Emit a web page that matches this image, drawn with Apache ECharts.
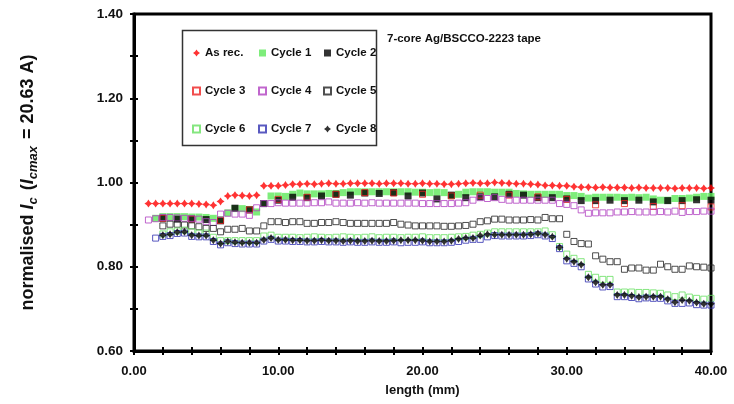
<!DOCTYPE html>
<html>
<head>
<meta charset="utf-8">
<script src="https://cdn.jsdelivr.net/npm/echarts@6/dist/echarts.min.js"></script>
<style>
  html, body { margin: 0; padding: 0; background: #fff; }
  #chart { width: 734px; height: 404px; }
</style>
</head>
<body>
<div id="chart"></div>
<script>
// positions along the tape (mm)
var xHalf = [1,1.5,2,2.5,3,3.5,4,4.5,5,5.5,
  6,6.5,7,7.5,8,8.5,9,9.5,10,10.5,
  11,11.5,12,12.5,13,13.5,14,14.5,15,15.5,
  16,16.5,17,17.5,18,18.5,19,19.5,20,20.5,
  21,21.5,22,22.5,23,23.5,24,24.5,25,25.5,
  26,26.5,27,27.5,28,28.5,29,29.5,30,30.5,
  31,31.5,32,32.5,33,33.5,34,34.5,35,35.5,
  36,36.5,37,37.5,38,38.5,39,39.5,40];
var xInt = [2,3,4,5,6,7,8,9,10,11,12,13,14,15,16,17,18,19,20,21,
  22,23,24,25,26,27,28,29,30,31,32,33,34,35,36,37,38,39,40];
var xEven = [2,4,6,8,10,12,14,16,18,20,22,24,26,28,30,32,34,36,38,40];

var asRec = [0.950,0.950,0.950,0.950,0.950,0.950,0.950,0.949,0.948,0.946,
  0.955,0.968,0.970,0.969,0.968,0.970,0.992,0.992,0.992,0.994,
  0.996,0.996,0.997,0.996,0.997,0.998,0.997,0.997,0.998,0.998,
  0.998,0.998,0.997,0.998,0.998,0.998,0.997,0.997,0.998,0.997,
  0.997,0.996,0.996,0.997,0.998,0.999,0.998,0.998,1.000,0.999,
  0.998,0.997,0.997,0.996,0.995,0.993,0.993,0.992,0.992,0.990,
  0.989,0.989,0.988,0.989,0.988,0.988,0.988,0.987,0.988,0.987,
  0.987,0.987,0.987,0.986,0.987,0.987,0.987,0.986,0.987];
var cycle1 = [null,0.915,0.919,0.919,0.919,0.919,0.918,0.918,0.917,0.915,
  0.912,0.928,0.938,0.938,0.936,0.930,0.950,0.968,0.968,0.967,
  0.972,0.975,0.973,0.973,0.973,0.974,0.974,0.976,0.978,0.978,
  0.978,0.978,0.978,0.978,0.978,0.978,0.978,0.977,0.977,0.976,
  0.977,0.976,0.969,0.972,0.977,0.978,0.978,0.978,0.977,0.977,
  0.977,0.974,0.973,0.972,0.972,0.972,0.972,0.972,0.969,0.969,
  0.967,0.963,0.965,0.965,0.965,0.965,0.964,0.965,0.964,0.965,
  0.961,0.958,0.958,0.962,0.962,0.963,0.965,0.967,0.967];
var cycle2 = [0.915,0.913,0.913,0.912,0.909,0.939,0.935,0.950,0.958,0.965,
  0.964,0.968,0.972,0.970,0.975,0.974,0.976,0.968,0.975,0.961,
  0.970,0.964,0.966,0.966,0.972,0.970,0.964,0.964,0.961,0.957,
  0.957,0.958,0.957,0.958,0.954,0.957,0.957,0.959,0.958];
var cycle3 = [0.915,0.913,0.910,0.935,0.960,0.965,0.972,0.976,0.975,0.972,
  0.968,0.970,0.970,0.966,0.960,0.947,0.950,0.943,0.945,0.942];
var cycle4 = [0.911,0.914,0.917,0.917,0.916,0.915,0.914,0.913,0.907,0.905,
  0.925,0.927,0.925,0.925,0.922,0.940,0.950,0.950,0.952,0.951,
  0.951,0.951,0.951,0.952,0.952,0.954,0.951,0.951,0.951,0.952,
  0.951,0.952,0.951,0.951,0.951,0.951,0.951,0.951,0.950,0.950,
  0.950,0.950,0.950,0.951,0.952,0.958,0.964,0.962,0.964,0.960,
  0.958,0.958,0.958,0.958,0.958,0.958,0.958,0.950,0.948,0.945,
  0.935,0.927,0.928,0.928,0.928,0.930,0.930,0.931,0.930,0.930,
  0.930,0.931,0.930,0.932,0.929,0.931,0.931,0.932,0.932];
var cycle5 = [null,null,0.897,0.901,0.901,0.899,0.897,0.895,0.891,0.891,
  0.883,0.889,0.889,0.891,0.885,0.885,0.897,0.907,0.907,0.905,
  0.907,0.907,0.903,0.903,0.905,0.905,0.907,0.905,0.903,0.903,
  0.903,0.903,0.903,0.903,0.905,0.901,0.899,0.897,0.897,0.897,
  0.897,0.896,0.896,0.897,0.898,0.901,0.907,0.909,0.913,0.913,
  0.911,0.911,0.911,0.912,0.911,0.917,0.914,0.914,0.877,0.860,
  0.855,0.854,0.826,0.818,0.812,0.812,0.794,0.797,0.797,0.792,
  0.792,0.806,0.800,0.794,0.794,0.802,0.800,0.799,0.797];
var cycle6 = [null,null,0.878,0.883,0.885,0.887,0.883,0.880,0.880,0.870,
  0.862,0.862,0.862,0.862,0.862,0.862,0.873,0.875,0.870,0.870,
  0.870,0.869,0.870,0.871,0.870,0.869,0.870,0.871,0.870,0.869,
  0.870,0.871,0.869,0.870,0.870,0.869,0.870,0.870,0.871,0.869,
  0.869,0.869,0.870,0.871,0.872,0.875,0.877,0.880,0.883,0.883,
  0.883,0.883,0.883,0.883,0.883,0.885,0.876,0.848,0.830,0.820,
  0.812,0.782,0.775,0.770,0.770,0.740,0.740,0.740,0.739,0.739,
  0.738,0.737,0.733,0.729,0.733,0.728,0.725,0.723,0.725];
var cycle7 = [null,0.868,0.872,0.874,0.879,0.880,0.872,0.871,0.871,0.860,
  0.852,0.857,0.855,0.854,0.854,0.854,0.861,0.865,0.861,0.861,
  0.860,0.860,0.859,0.859,0.860,0.859,0.859,0.858,0.859,0.858,
  0.858,0.859,0.858,0.858,0.859,0.857,0.858,0.858,0.859,0.857,
  0.857,0.857,0.858,0.860,0.863,0.865,0.865,0.871,0.874,0.873,
  0.873,0.873,0.873,0.874,0.876,0.873,0.867,0.843,0.814,0.808,
  0.800,0.771,0.759,0.752,0.753,0.729,0.729,0.727,0.724,0.726,
  0.725,0.725,0.719,0.713,0.713,0.714,0.710,0.709,0.709];
var cycle8 = [null,null,0.875,0.877,0.882,0.883,0.875,0.874,0.874,0.863,
  0.855,0.860,0.858,0.857,0.857,0.857,0.864,0.868,0.864,0.864,
  0.863,0.863,0.862,0.862,0.863,0.862,0.862,0.861,0.862,0.861,
  0.861,0.862,0.861,0.861,0.862,0.863,0.863,0.863,0.862,0.860,
  0.860,0.860,0.862,0.866,0.868,0.868,0.874,0.877,0.876,0.876,
  0.876,0.876,0.876,0.877,0.879,0.876,0.871,0.846,0.819,0.812,
  0.805,0.775,0.763,0.757,0.757,0.733,0.733,0.731,0.728,0.729,
  0.729,0.729,0.723,0.716,0.721,0.719,0.715,0.712,0.712];

var FONT = "'Liberation Sans', Arial, sans-serif";
// plump four-pointed marker, like the spreadsheet diamond
var STAR = 'path://M5,0 L7,3 L10,5 L7,7 L5,10 L3,7 L0,5 L3,3 Z';

function pairs(xs, ys) {
  var out = [];
  for (var i = 0; i < xs.length; i++) {
    if (ys[i] != null) out.push([xs[i], ys[i]]);
  }
  return out;
}

function filled(name, xs, ys, symbol, size, color) {
  return {
    name: name, type: 'scatter', data: pairs(xs, ys),
    symbol: symbol, symbolSize: size,
    itemStyle: { color: color },
    emphasis: { disabled: true }
  };
}
function hollow(name, xs, ys, color) {
  return {
    name: name, type: 'scatter', data: pairs(xs, ys),
    symbol: 'rect', symbolSize: 6,
    itemStyle: { color: 'rgba(0,0,0,0)', borderColor: color, borderWidth: 1 },
    emphasis: { disabled: true }
  };
}

var legendText = { fontFamily: FONT, fontWeight: 'bold', fontSize: 11.5, color: '#111', lineHeight: 14 };
function legendCol(left, names) {
  return {
    orient: 'vertical', left: left, top: 41,
    itemWidth: 7, itemHeight: 7, itemGap: 24,
    textStyle: legendText, data: names, selectedMode: false
  };
}

var chart = echarts.init(document.getElementById('chart'));
chart.setOption({
  animation: false,
  backgroundColor: '#fff',
  title: {
    text: '7-core Ag/BSCCO-2223 tape', left: 382, top: 28,
    textStyle: { fontFamily: FONT, fontWeight: 'bold', fontSize: 11.5, color: '#111' }
  },
  graphic: [{
    type: 'rect', left: 180, top: 28,
    shape: { width: 194, height: 115 },
    style: { fill: 'none', stroke: '#333', lineWidth: 1.5 }
  }],
  legend: [
    legendCol(187, ['As rec.', 'Cycle 3', 'Cycle 6']),
    legendCol(253, ['Cycle 1', 'Cycle 4', 'Cycle 7']),
    legendCol(318, ['Cycle 2', 'Cycle 5', 'Cycle 8'])
  ],
  grid: { left: 134, right: 23, top: 14, bottom: 53, show: true, borderColor: '#000', borderWidth: 3 },
  xAxis: [{
    type: 'value', min: 0, max: 40, interval: 2,
    name: 'length (mm)', nameLocation: 'middle', nameGap: 33,
    nameTextStyle: { fontFamily: FONT, fontWeight: 'bold', fontSize: 13, color: '#111' },
    axisLine: { lineStyle: { color: '#000', width: 3 } },
    axisTick: { length: 4, lineStyle: { color: '#000', width: 2 } },
    axisLabel: {
      interval: 0, margin: 14, fontFamily: FONT, fontWeight: 'bold', fontSize: 13, color: '#111',
      formatter: function (v) { return v % 10 === 0 ? v.toFixed(2) : ''; }
    },
    splitLine: { show: false }
  }, {
    type: 'value', min: 0, max: 40, interval: 2, position: 'bottom',
    axisLine: { show: false },
    axisTick: { inside: true, length: 4, lineStyle: { color: '#000', width: 2 } },
    axisLabel: { show: false }, splitLine: { show: false }
  }],
  yAxis: [{
    type: 'value', min: 0.6, max: 1.4, interval: 0.1,
    name: '{n|normalised }{i|I}{s|c}{n| (}{i|I}{s|cmax}{n| = 20.63 A)}',
    nameLocation: 'middle', nameRotate: 90, nameGap: 93,
    nameTextStyle: {
      fontFamily: FONT, fontWeight: 'bold', fontSize: 18, color: '#111',
      rich: {
        n: { fontFamily: FONT, fontWeight: 'bold', fontSize: 18, color: '#111', lineHeight: 26 },
        i: { fontFamily: FONT, fontWeight: 'bold', fontStyle: 'italic', fontSize: 18, color: '#111', lineHeight: 26 },
        s: { fontFamily: FONT, fontWeight: 'bold', fontStyle: 'italic', fontSize: 13, color: '#111', lineHeight: 26, padding: [10, 2, 0, 0] }
      }
    },
    axisLine: { lineStyle: { color: '#000', width: 3 } },
    axisTick: { length: 4, lineStyle: { color: '#000', width: 2 } },
    axisLabel: {
      margin: 11, fontFamily: FONT, fontWeight: 'bold', fontSize: 13.5, color: '#111',
      formatter: function (v) { return Math.round(v * 10) % 2 === 0 ? v.toFixed(2) : ''; }
    },
    splitLine: { show: false }
  }, {
    type: 'value', min: 0.6, max: 1.4, interval: 0.1, position: 'left',
    axisLine: { show: false },
    axisTick: { inside: true, length: 4, lineStyle: { color: '#000', width: 2 } },
    axisLabel: { show: false }, splitLine: { show: false }
  }],
  series: [
    filled('As rec.', xHalf, asRec, STAR, 8, '#ff0000'),
    filled('Cycle 1', xHalf, cycle1, 'rect', 7, '#5ee85a'),
    filled('Cycle 2', xInt, cycle2, 'rect', 7, '#000000'),
    hollow('Cycle 3', xEven, cycle3, '#ee2020'),
    hollow('Cycle 4', xHalf, cycle4, '#b040c0'),
    hollow('Cycle 5', xHalf, cycle5, '#222222'),
    hollow('Cycle 6', xHalf, cycle6, '#66e060'),
    hollow('Cycle 7', xHalf, cycle7, '#3030b0'),
    filled('Cycle 8', xHalf, cycle8, STAR, 8, '#000000')
  ]
});
</script>
</body>
</html>
